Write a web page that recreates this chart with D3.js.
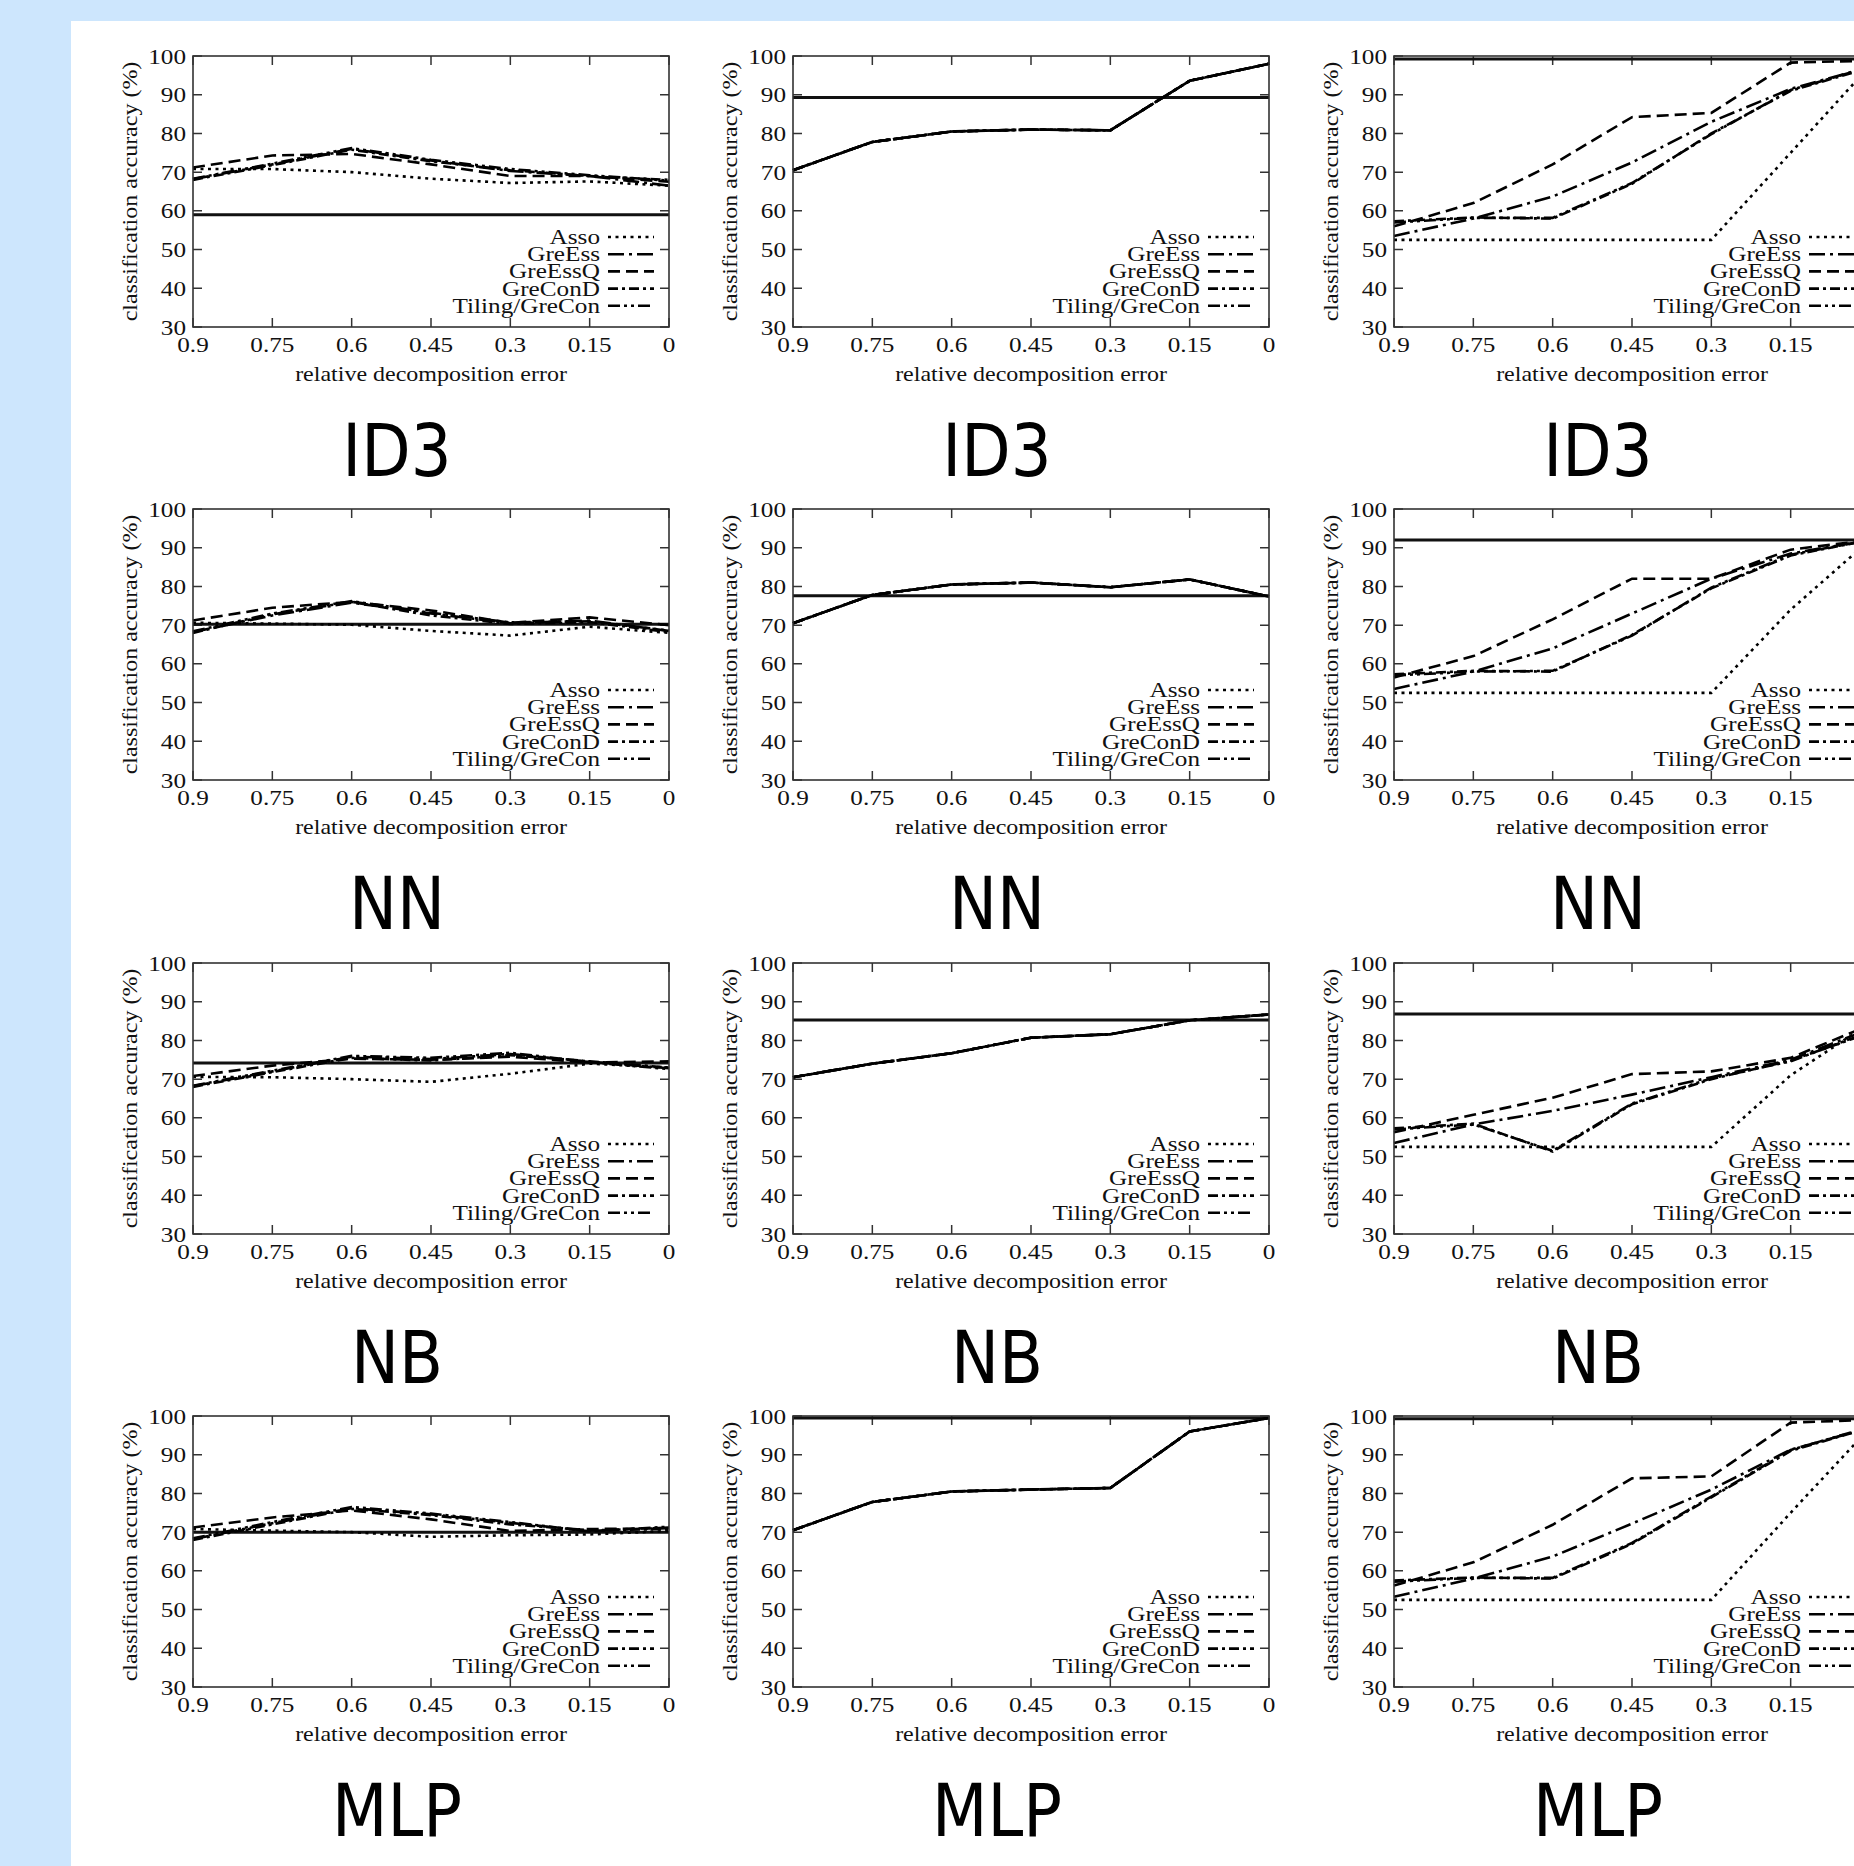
<!DOCTYPE html>
<html>
<head>
<meta charset="utf-8">
<title>Classification accuracy vs. relative decomposition error</title>
<script src="https://d3js.org/d3.v7.min.js"></script>
<style>
  body { margin: 0; background: #cde6fd; }
  svg { display: block; }
  .serif { font-family: 'Liberation Serif', 'Times New Roman', serif; fill: #111; }
  .title { font-family: 'DejaVu Sans', sans-serif; fill: #000; }
</style>
</head>
<body>
<div id="chart"></div>
<script>
// x axis: relative decomposition error (reversed)
const errors = [0.9, 0.75, 0.6, 0.45, 0.3, 0.15, 0];
const xTickLabels = ["0.9", "0.75", "0.6", "0.45", "0.3", "0.15", "0"];
const yTicks = [30, 40, 50, 60, 70, 80, 90, 100];
const methods = ["Asso", "GreEss", "GreEssQ", "GreConD", "Tiling/GreCon"];
const classifiers = ["ID3", "NN", "NB", "MLP"];

// left column: rows are Asso, GreEss, GreEssQ, GreConD, Tiling/GreCon
const id3Left = [
  [70.8, 70.8, 70.0, 68.3, 67.2, 67.6, 66.5],
  [68.2, 72.0, 76.0, 73.0, 70.3, 69.0, 66.5],
  [71.2, 74.3, 74.7, 72.0, 69.0, 69.0, 67.5],
  [68.0, 71.8, 75.8, 72.8, 70.5, 69.0, 68.0],
  [68.3, 72.2, 76.2, 73.2, 70.8, 69.2, 67.8]
];
const nnLeft = [
  [70.6, 70.4, 70.1, 68.5, 67.3, 69.6, 68.0],
  [68.2, 72.5, 75.8, 73.0, 70.5, 71.2, 68.5],
  [71.2, 74.5, 76.0, 73.8, 70.6, 72.0, 70.0],
  [68.0, 72.8, 76.0, 72.5, 70.3, 70.8, 68.2],
  [68.4, 73.0, 76.2, 73.2, 70.7, 71.0, 68.6]
];
const nbLeft = [
  [70.6, 70.5, 70.0, 69.3, 71.4, 74.0, 73.0],
  [68.2, 72.0, 75.8, 75.2, 76.5, 74.5, 72.8],
  [70.8, 73.5, 75.3, 75.0, 75.8, 74.3, 74.6],
  [68.0, 71.8, 75.5, 74.8, 76.2, 74.6, 73.0],
  [68.3, 72.2, 76.0, 75.5, 76.8, 74.4, 72.6]
];
const mlpLeft = [
  [70.8, 70.4, 70.0, 68.8, 69.2, 69.4, 70.3],
  [68.2, 72.3, 76.2, 74.6, 72.4, 70.3, 71.2],
  [71.2, 73.8, 75.6, 73.3, 70.3, 70.8, 71.0],
  [68.0, 72.0, 76.0, 74.4, 72.0, 70.5, 70.8],
  [68.4, 72.6, 76.5, 74.8, 72.6, 70.2, 71.4]
];

// middle column: all five methods give the same curve
const id3Mid = [70.5, 77.8, 80.5, 81.0, 80.8, 93.6, 98.0];
const nnMid = [70.5, 77.8, 80.5, 81.0, 79.8, 81.8, 77.4];
const nbMid = [70.5, 74.0, 76.7, 80.7, 81.6, 85.2, 86.7];
const mlpMid = [70.5, 77.8, 80.5, 81.0, 81.4, 96.0, 99.5];

// right column
const id3Right = [
  [52.5, 52.5, 52.5, 52.5, 52.5, 75.0, 97.5],
  [53.5, 58.0, 63.7, 72.5, 83.0, 91.5, 97.2],
  [56.0, 62.0, 72.0, 84.2, 85.3, 98.3, 98.8],
  [57.3, 58.3, 58.0, 67.0, 80.0, 91.0, 97.0],
  [57.0, 58.2, 58.2, 67.2, 79.8, 91.2, 97.2]
];
const nnRight = [
  [52.5, 52.5, 52.5, 52.5, 52.5, 74.0, 92.0],
  [53.5, 58.0, 64.0, 73.0, 82.0, 88.5, 92.0],
  [56.5, 62.0, 71.5, 82.0, 82.0, 89.5, 92.0],
  [57.3, 58.2, 58.0, 67.5, 79.5, 88.0, 92.0],
  [57.0, 58.0, 58.2, 67.3, 79.7, 88.2, 92.0]
];
const nbRight = [
  [52.5, 52.5, 52.5, 52.5, 52.5, 71.0, 84.5],
  [53.5, 58.3, 61.8, 66.0, 70.5, 75.0, 83.0],
  [56.3, 60.8, 65.2, 71.3, 72.0, 75.5, 84.0],
  [57.3, 58.5, 51.3, 63.5, 70.0, 74.8, 82.0],
  [57.0, 58.3, 51.5, 63.7, 70.2, 74.6, 82.3]
];
const mlpRight = [
  [52.5, 52.5, 52.5, 52.5, 52.5, 75.0, 97.0],
  [53.3, 58.0, 63.7, 72.2, 81.0, 91.3, 97.0],
  [56.2, 62.2, 71.9, 83.9, 84.4, 98.3, 99.0],
  [57.5, 58.3, 58.0, 67.0, 79.0, 91.0, 97.0],
  [57.2, 58.2, 58.2, 67.2, 79.2, 91.2, 97.2]
];

// accuracy on the original data (solid horizontal line), one per row
const baselineLeft = [59.0, 70.2, 74.2, 70.0];
const baselineMid = [89.3, 77.6, 85.3, 99.5];
const baselineRight = [99.2, 92.0, 86.8, 99.3];

const panels = [
  [id3Left, methods.map(() => id3Mid), id3Right],
  [nnLeft, methods.map(() => nnMid), nnRight],
  [nbLeft, methods.map(() => nbMid), nbRight],
  [mlpLeft, methods.map(() => mlpMid), mlpRight]
];
const baselines = [baselineLeft, baselineMid, baselineRight];

const dashes = ["3,4.5", "16,5,3,5", "12,6", "10,4,3,4", "12,4,3,4,3,4"];

const W = 1854, H = 1866;
const plotW = 476, plotH = 271;
const colX = [193, 793, 1394];
const rowY = [56, 509, 963, 1416];
const wide = 1.2; // the figure's serif face runs wider than Liberation Serif

const svg = d3.select("#chart").append("svg")
  .attr("width", W).attr("height", H);

svg.append("rect")
  .attr("x", 71).attr("y", 21)
  .attr("width", W - 71).attr("height", H - 21)
  .attr("fill", "#fff");

const x = d3.scaleLinear().domain([0.9, 0]).range([0, plotW]);
const y = d3.scaleLinear().domain([30, 100]).range([plotH, 0]);
const line = d3.line().x((d, i) => x(errors[i])).y(d => y(d));

function serif(sel, size, anchor) {
  return sel.attr("class", "serif")
    .attr("font-size", size)
    .attr("text-anchor", anchor);
}

classifiers.forEach((name, r) => {
  [0, 1, 2].forEach(c => {
    const g = svg.append("g")
      .attr("transform", `translate(${colX[c]},${rowY[r]})`);

    // ticks inside on all four sides
    g.selectAll(".yt").data(yTicks).enter().append("path")
      .attr("d", d => `M0,${y(d)}h9M${plotW},${y(d)}h-9`)
      .attr("stroke", "#333").attr("stroke-width", 1.5);
    g.selectAll(".xt").data(errors).enter().append("path")
      .attr("d", d => `M${x(d)},${plotH}v-9M${x(d)},0v9`)
      .attr("stroke", "#333").attr("stroke-width", 1.5);

    serif(g.selectAll(".yl").data(yTicks).enter().append("text"), 21, "end")
      .attr("transform", d => `translate(-7,${y(d)}) scale(${wide},1)`)
      .attr("dy", "0.36em")
      .text(d => d);
    serif(g.selectAll(".xl").data(errors).enter().append("text"), 21, "middle")
      .attr("transform", d => `translate(${x(d)},${plotH + 25}) scale(${wide},1)`)
      .text((d, i) => xTickLabels[i]);

    serif(g.append("text"), 20, "middle")
      .attr("transform", `translate(-56,${plotH / 2}) rotate(-90) scale(${wide},1)`)
      .text("classification accuracy (%)");
    serif(g.append("text"), 20, "middle")
      .attr("transform", `translate(${plotW / 2},${plotH + 54}) scale(${wide},1)`)
      .text("relative decomposition error");

    // original-data accuracy
    g.append("line")
      .attr("x1", 0).attr("x2", plotW)
      .attr("y1", y(baselines[c][r])).attr("y2", y(baselines[c][r]))
      .attr("stroke", "#111").attr("stroke-width", 3);

    g.selectAll(".series").data(panels[r][c]).enter().append("path")
      .attr("d", line)
      .attr("fill", "none")
      .attr("stroke", "#000")
      .attr("stroke-width", 2.6)
      .attr("stroke-dasharray", (d, i) => dashes[i]);

    g.append("rect")
      .attr("width", plotW).attr("height", plotH)
      .attr("fill", "none").attr("stroke", "#333").attr("stroke-width", 1.6);

    // legend
    const lg = g.append("g").attr("transform", `translate(${plotW - 61},181)`);
    methods.forEach((m, i) => {
      const ly = i * 17.2;
      serif(lg.append("text"), 21, "end")
        .attr("transform", `translate(-8,${ly}) scale(${wide},1)`)
        .attr("dy", "0.33em")
        .text(m);
      lg.append("line")
        .attr("x1", 0).attr("x2", 46).attr("y1", ly).attr("y2", ly)
        .attr("stroke", "#000").attr("stroke-width", 2.6)
        .attr("stroke-dasharray", dashes[i]);
    });

    svg.append("text").attr("class", "title")
      .attr("transform", `translate(${colX[c] + 204},${rowY[r] + 420}) scale(0.88,1)`)
      .attr("text-anchor", "middle").attr("font-size", 73)
      .text(name);
  });
});
</script>
</body>
</html>
